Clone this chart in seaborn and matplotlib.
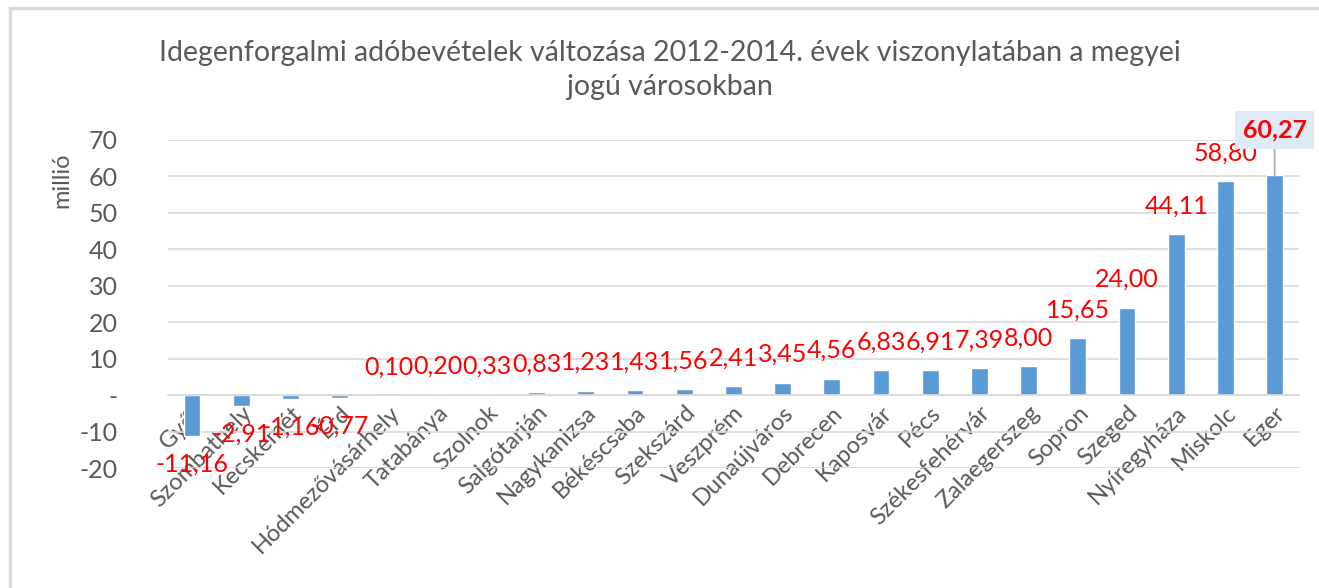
import matplotlib
matplotlib.use("Agg")
import matplotlib.pyplot as plt
import seaborn as sns
import pandas as pd
from matplotlib.patches import Rectangle

# Data (millió Ft)
cities = ["Győr", "Szombathely", "Kecskemét", "Érd", "Hódmezővásárhely", "Tatabánya",
          "Szolnok", "Salgótarján", "Nagykanizsa", "Békéscsaba", "Szekszárd", "Veszprém",
          "Dunaújváros", "Debrecen", "Kaposvár", "Pécs", "Székesfehérvár", "Zalaegerszeg",
          "Sopron", "Szeged", "Nyíregyháza", "Miskolc", "Eger"]
change = [-11.16, -2.91, -1.16, -0.77, 0.10, 0.20, 0.33, 0.83, 1.23, 1.43, 1.56, 2.41,
          3.45, 4.56, 6.83, 6.91, 7.39, 8.00, 15.65, 24.00, 44.11, 58.80, 60.27]
yticks = [-20, -10, 0, 10, 20, 30, 40, 50, 60, 70]
ytick_labels = ["-20", "-10", "-", "10", "20", "30", "40", "50", "60", "70"]

df = pd.DataFrame({"city": cities, "change": change})

sns.set_style("white")
plt.rcParams["font.family"] = ["Lato", "DejaVu Sans"]

grey = "#595959"
bar_color = "#5B9BD5"
red = "#FF0000"

fig = plt.figure(figsize=(13.19, 5.88), dpi=100)
ax = fig.add_axes([0.127, 0.204, 0.858, 0.558])

sns.barplot(data=df, x="city", y="change", color=bar_color, width=0.34,
            saturation=1, ax=ax)

ax.set_ylim(-20, 70)
ax.set_xlim(-0.5, len(cities) - 0.5)
ax.set_yticks(yticks)
ax.set_yticklabels(ytick_labels, fontsize=18, color=grey)
ax.tick_params(axis="y", length=0, pad=36)
ax.yaxis.grid(True, color="#D9D9D9", linewidth=1.2)
ax.set_axisbelow(True)
for s in ["top", "right", "left"]:
    ax.spines[s].set_visible(False)
ax.spines["bottom"].set_position(("data", 0))
ax.spines["bottom"].set_color("#D9D9D9")
ax.spines["bottom"].set_linewidth(1.2)
ax.set_xlabel("")
ax.set_ylabel("")

ax.tick_params(axis="x", length=0, pad=5)
ax.set_xticks(range(len(cities)))
ax.set_xticklabels(cities, rotation=45, ha="right", rotation_mode="anchor",
                   fontsize=17, color=grey)

# data labels (all but the last, which is highlighted)
bars = ax.containers[0]
labels = [f"{v:.2f}".replace(".", ",") for v in change]
labels[-1] = ""
ax.bar_label(bars, labels=labels, padding=12, fontsize=18, color=red)

ax.annotate(f"{change[-1]:.2f}".replace(".", ","), xy=(len(cities) - 1, change[-1]),
            xytext=(0, 33), textcoords="offset points", ha="center", va="center",
            fontsize=18, fontweight="bold", color=red,
            bbox=dict(boxstyle="square,pad=0.3", fc="#DEEBF7", ec="none"),
            arrowprops=dict(arrowstyle="-", color="#A6A6A6", lw=1.2, shrinkA=0, shrinkB=0))

fig.text(0.508, 1 - 70 / 588,
         "Idegenforgalmi adóbevételek változása 2012-2014. évek viszonylatában a megyei\njogú városokban",
         ha="center", va="center", fontsize=20.5, color=grey, linespacing=1.35)
fig.text(62 / 1319, 1 - 180 / 588, "millió", rotation=90, ha="center", va="center",
         fontsize=17, color=grey)

fig.patches.append(Rectangle((10 / 1319, -0.05), 1.1, 1 - 8 / 588 + 0.05,
                             transform=fig.transFigure, fill=False,
                             ec="#D9D9D9", lw=2.5, zorder=0))

fig.savefig("out.png", dpi=100)
